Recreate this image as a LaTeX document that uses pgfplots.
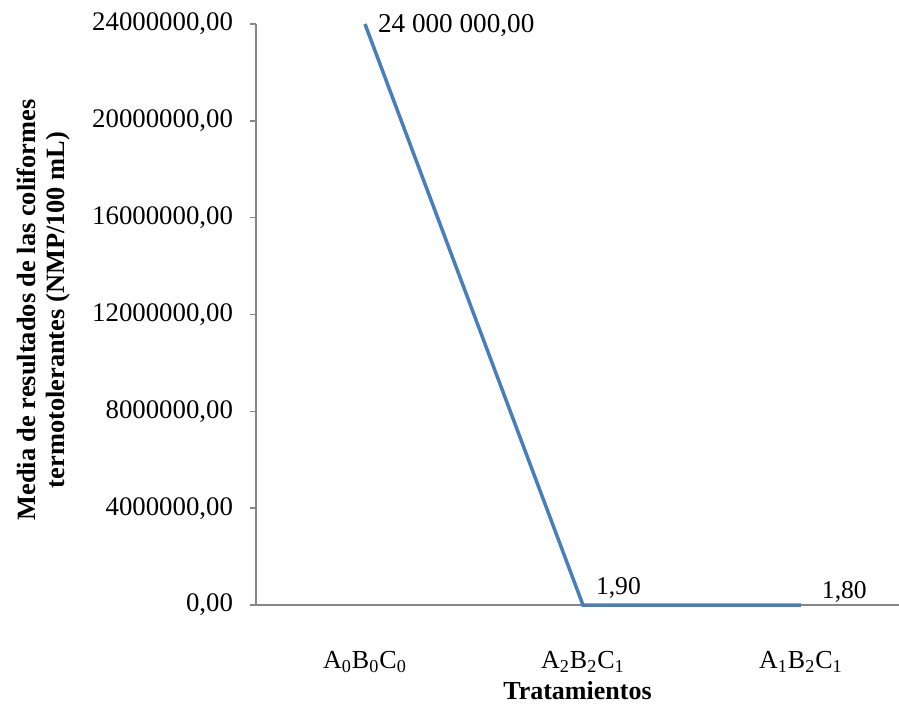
\documentclass[border=0pt]{standalone}
\usepackage{pgfplots}
\pgfplotsset{compat=1.18}
\usepackage{fontspec}
\setmainfont{Liberation Serif}
\definecolor{axgray}{HTML}{868686}
\definecolor{lineblue}{HTML}{4A7EBB}
\begin{document}
\fontsize{13}{15.6}\selectfont
\begin{tikzpicture}
\begin{axis}[
  at={(0,0)}, anchor=south west,
  scale only axis,
  width=321.5pt, height=290.5pt,
  xmin=-0.5, xmax=2.45,
  ymin=0, ymax=24000000,
  axis x line*=bottom, axis y line*=left,
  axis line style={draw=axgray, line width=0.8pt},
  xtick={0,1,2},
  xticklabels={A\textsubscript{0}B\textsubscript{0}C\textsubscript{0},A\textsubscript{2}B\textsubscript{2}C\textsubscript{1},A\textsubscript{1}B\textsubscript{2}C\textsubscript{1}},
  extra x ticks={-0.5,0.5,1.5},
  extra x tick labels={},
  extra x tick style={major tick length=6pt, tick style={draw=axgray, line width=0.8pt}, tick align=outside},
  major x tick style={draw=none},
  ytick={0,4000000,8000000,12000000,16000000,20000000,24000000},
  ytick style={draw=axgray, line width=0.8pt},
  tick align=outside,
  major tick length=3pt,
  scaled y ticks=false,
  yticklabel style={/pgf/number format/fixed, /pgf/number format/fixed zerofill, /pgf/number format/precision=2, /pgf/number format/use comma, /pgf/number format/1000 sep={}, /pgf/number format/assume math mode=true},
  yticklabel style={font=\fontsize{13.4}{15.6}\selectfont, xshift=-4pt},
  xticklabel style={font=\fontsize{13}{15.6}\selectfont, yshift=-15.5pt},
  xlabel={\textbf{Tratamientos}},
  xlabel style={font=\fontsize{13}{15.6}\selectfont, at={(axis description cs:0.5,0)}, anchor=center, yshift=-43pt},
  ylabel={},
  clip=false,
]
\addplot[lineblue, line width=1.75pt] coordinates {(0,24000000) (1,1.90) (2,1.80)};
\node[anchor=west, font=\fontsize{13.6}{15}\selectfont] at (axis cs:0,24000000) [xshift=2pt, yshift=-1pt] {24 000 000,00};
\node[anchor=south west, font=\fontsize{12.8}{14}\selectfont] at (axis cs:1,1.90) [xshift=2pt, yshift=-1pt] {1,90};
\node[anchor=south west, font=\fontsize{12.8}{14}\selectfont] at (axis cs:2,1.80) [xshift=6pt, yshift=-3pt] {1,80};
\end{axis}
\node[rotate=90, align=center, font=\bfseries\fontsize{13.2}{14.5}\selectfont] at (-106pt,147.5pt) {Media de resultados de las coliformes\\termotolerantes (NMP/100 mL)};
\pgfresetboundingbox
\path[use as bounding box] (-128pt,-51.5pt) rectangle (321.5pt,302.5pt);
\end{tikzpicture}
\end{document}
